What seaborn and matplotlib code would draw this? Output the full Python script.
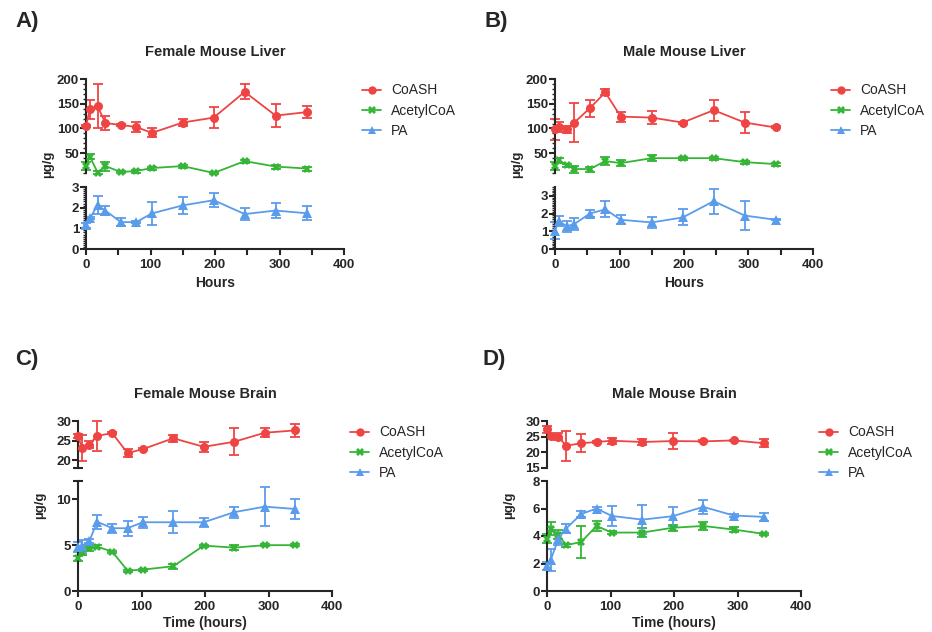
import matplotlib
matplotlib.use("Agg")
import matplotlib.pyplot as plt
import seaborn as sns
import pandas as pd
from matplotlib.lines import Line2D
from matplotlib.ticker import MultipleLocator, FixedLocator

# ---- Config ----
W, H = 932, 632
sns.set_style("ticks")
plt.rcParams["font.family"] = ["Liberation Sans", "DejaVu Sans"]

HOURS = [0, 6, 18, 30, 54, 78, 102, 150, 198, 246, 294, 342]
SERIES = ["CoASH", "AcetylCoA", "PA"]
COLORS = {"CoASH": "#ef4444", "AcetylCoA": "#35b535", "PA": "#5a9cec"}
MARKERS = {"CoASH": "o", "AcetylCoA": "X", "PA": "^"}
PANEL_LABELS = ["A)", "B)", "C)", "D)"]
TITLES = ["Female Mouse Liver", "Male Mouse Liver", "Female Mouse Brain", "Male Mouse Brain"]
XLABELS = ["Hours", "Hours", "Time (hours)", "Time (hours)"]

# ---- Data (mean, error) ----
# A) female liver
fliv_coash = [105, 139, 145, 111, 107, 103, 91, 112, 122, 174, 126, 133]
fliv_coash_err = [3, 19, 44, 14, 3, 10, 9, 8, 22, 15, 24, 12]
fliv_acetyl = [24, 43, 11, 24, 12, 14, 20, 24, 10, 34, 23, 19]
fliv_acetyl_err = [8, 5, 3, 9, 2, 3, 3, 3, 3, 3, 4, 4]
fliv_pa = [1.14, 1.48, 2.12, 1.86, 1.30, 1.30, 1.72, 2.11, 2.36, 1.69, 1.86, 1.73]
fliv_pa_err = [0.1, 0.05, 0.45, 0.2, 0.2, 0.05, 0.55, 0.43, 0.35, 0.3, 0.35, 0.35]

# B) male liver
mliv_coash = [98, 103, 98, 112, 141, 173, 124, 122, 112, 137, 112, 102]
mliv_coash_err = [22, 10, 8, 40, 17, 6, 10, 13, 2, 21, 21, 2]
mliv_acetyl = [24, 36, 26, 18, 18, 34, 30, 40, 40, 40, 32, 28]
mliv_acetyl_err = [8, 5, 3, 7, 5, 8, 6, 6, 3, 3, 3, 3]
mliv_pa = [1.04, 1.59, 1.28, 1.41, 2.0, 2.24, 1.65, 1.5, 1.78, 2.7, 1.89, 1.65]
mliv_pa_err = [0.5, 0.3, 0.3, 0.35, 0.2, 0.45, 0.25, 0.3, 0.45, 0.7, 0.8, 0.03]

# C) female brain
fbr_coash = [26.2, 23.2, 24.0, 26.2, 26.9, 21.8, 22.8, 25.6, 23.4, 24.7, 27.0, 27.6]
fbr_coash_err = [0.5, 3.3, 1.0, 3.8, 0.3, 1.0, 0.3, 0.9, 1.3, 3.5, 1.2, 1.6]
fbr_acetyl = [3.56, 4.3, 4.65, 4.84, 4.29, 2.22, 2.33, 2.7, 4.95, 4.73, 5.0, 5.0]
fbr_acetyl_err = [0.3, 0.4, 0.3, 0.2, 0.1, 0.1, 0.1, 0.3, 0.1, 0.25, 0.1, 0.1]
fbr_pa = [4.8, 4.9, 5.45, 7.56, 6.85, 6.85, 7.5, 7.5, 7.5, 8.6, 9.2, 8.95]
fbr_pa_err = [0.5, 0.7, 0.2, 0.75, 0.5, 0.8, 0.6, 1.2, 0.5, 0.6, 2.1, 1.1]

# D) male brain
mbr_coash = [27.3, 25.1, 25.0, 22.1, 22.9, 23.3, 23.7, 23.3, 23.6, 23.5, 23.8, 22.9]
mbr_coash_err = [1.0, 0.3, 1.2, 4.8, 2.8, 0.3, 1.0, 1.0, 2.5, 0.3, 0.2, 1.3]
mbr_acetyl = [3.81, 4.54, 4.1, 3.33, 3.57, 4.73, 4.25, 4.25, 4.6, 4.73, 4.47, 4.15]
mbr_acetyl_err = [0.35, 0.5, 0.35, 0.1, 1.15, 0.35, 0.1, 0.3, 0.2, 0.3, 0.2, 0.1]
mbr_pa = [1.82, 2.28, 3.8, 4.54, 5.6, 6.0, 5.46, 5.19, 5.44, 6.12, 5.49, 5.39]
mbr_pa_err = [0.3, 0.8, 0.45, 0.3, 0.25, 0.1, 0.7, 1.05, 0.7, 0.5, 0.1, 0.3]

PANELS = [
    {"data": {"CoASH": (fliv_coash, fliv_coash_err), "AcetylCoA": (fliv_acetyl, fliv_acetyl_err),
              "PA": (fliv_pa, fliv_pa_err)},
     "top": ["CoASH", "AcetylCoA"], "bot": ["PA"],
     "top_lim": (10, 200), "top_ticks": [50, 100, 150, 200], "top_minor": 10,
     "bot_lim": (0, 3), "bot_ticks": [0, 1, 2, 3], "bot_minor": 0.1, "x_minor": True,
     "px": (86, 344, 79, 173, 187, 249), "letter": (15, 22), "ylab_y": 164},
    {"data": {"CoASH": (mliv_coash, mliv_coash_err), "AcetylCoA": (mliv_acetyl, mliv_acetyl_err),
              "PA": (mliv_pa, mliv_pa_err)},
     "top": ["CoASH", "AcetylCoA"], "bot": ["PA"],
     "top_lim": (10, 200), "top_ticks": [50, 100, 150, 200], "top_minor": 10,
     "bot_lim": (0, 3.5), "bot_ticks": [0, 1, 2, 3], "bot_minor": 0.1, "x_minor": True,
     "px": (555, 813, 79, 173, 187, 249), "letter": (485, 22), "ylab_y": 164},
    {"data": {"CoASH": (fbr_coash, fbr_coash_err), "AcetylCoA": (fbr_acetyl, fbr_acetyl_err),
              "PA": (fbr_pa, fbr_pa_err)},
     "top": ["CoASH"], "bot": ["AcetylCoA", "PA"],
     "top_lim": (18, 30), "top_ticks": [20, 25, 30], "top_minor": None,
     "bot_lim": (0, 12), "bot_ticks": [0, 5, 10], "bot_minor": None, "x_minor": False,
     "px": (78, 332, 421, 468, 481, 591), "letter": (15, 359), "ylab_y": 505},
    {"data": {"CoASH": (mbr_coash, mbr_coash_err), "AcetylCoA": (mbr_acetyl, mbr_acetyl_err),
              "PA": (mbr_pa, mbr_pa_err)},
     "top": ["CoASH"], "bot": ["AcetylCoA", "PA"],
     "top_lim": (15, 30), "top_ticks": [15, 20, 25, 30], "top_minor": None,
     "bot_lim": (0, 8), "bot_ticks": [0, 2, 4, 6, 8], "bot_minor": None, "x_minor": False,
     "px": (547, 801, 421, 468, 481, 591), "letter": (482, 359), "ylab_y": 505},
]


def px_axes(fig, x0, x1, ytop, ybot):
    return fig.add_axes([x0 / W, 1 - ybot / H, (x1 - x0) / W, (ybot - ytop) / H])


def draw_series(ax, name, mean, err):
    color = COLORS[name]
    df = pd.DataFrame({"Hours": HOURS, "value": mean})
    sns.lineplot(data=df, x="Hours", y="value", ax=ax, color=color, marker=MARKERS[name],
                 markersize=6.5 if name != "AcetylCoA" else 6, markeredgewidth=0,
                 linewidth=1.3, clip_on=False, zorder=3)
    eb = ax.errorbar(HOURS, mean, yerr=err, fmt="none", ecolor=color, elinewidth=1.3,
                     capsize=3.5, capthick=1.3, zorder=2)
    for cap in eb[1]:
        cap.set_clip_on(False)
    for col in eb[2]:
        col.set_clip_on(False)


def style_axis(ax, lim, ticks, minor):
    ax.set_xlim(0, 400)
    ax.set_ylim(*lim)
    ax.yaxis.set_major_locator(FixedLocator(ticks))
    if minor:
        ax.yaxis.set_minor_locator(MultipleLocator(minor))
    else:
        ax.yaxis.set_minor_locator(FixedLocator([lim[0], lim[1]]))
    for side in ["top", "right"]:
        ax.spines[side].set_visible(False)
    ax.spines["left"].set_linewidth(1.5)
    ax.spines["bottom"].set_linewidth(1.5)
    ax.tick_params(axis="y", which="major", length=4, width=1.5, direction="out", labelsize=9.5, pad=1)
    if minor:
        ax.tick_params(axis="y", which="minor", length=2, width=1, direction="out")
    else:
        ax.tick_params(axis="y", which="minor", length=7, width=1.5, direction="inout")
    for lbl in ax.get_yticklabels():
        lbl.set_fontweight("bold")
    ax.set_ylabel("")
    ax.set_xlabel("")


fig = plt.figure(figsize=(W / 100, H / 100), dpi=100)

for i, p in enumerate(PANELS):
    x0, x1, t0, t1, b0, b1 = p["px"]
    ax_top = px_axes(fig, x0, x1, t0, t1)
    ax_bot = px_axes(fig, x0, x1, b0, b1)

    for name in p["top"]:
        draw_series(ax_top, name, *p["data"][name])
    for name in p["bot"]:
        draw_series(ax_bot, name, *p["data"][name])

    style_axis(ax_top, p["top_lim"], p["top_ticks"], p["top_minor"])
    style_axis(ax_bot, p["bot_lim"], p["bot_ticks"], p["bot_minor"])

    # top segment has no x axis
    ax_top.spines["bottom"].set_visible(False)
    ax_top.tick_params(axis="x", which="both", bottom=False, labelbottom=False)

    ax_bot.xaxis.set_major_locator(FixedLocator([0, 100, 200, 300, 400]))
    if p["x_minor"]:
        ax_bot.xaxis.set_minor_locator(MultipleLocator(50))
    else:
        ax_bot.xaxis.set_minor_locator(FixedLocator([]))
    ax_bot.tick_params(axis="x", which="major", length=4, width=1.5, labelsize=9.5, pad=3)
    ax_bot.tick_params(axis="x", which="minor", length=4, width=1.5)
    for lbl in ax_bot.get_xticklabels():
        lbl.set_fontweight("bold")

    xc = (x0 + x1) / 2
    fig.text(xc / W, 1 - (b1 + (34 if i < 2 else 32)) / H, XLABELS[i], ha="center", va="center",
             fontsize=10, fontweight="bold")
    fig.text(xc / W, 1 - (t0 - 27) / H, TITLES[i], ha="center", va="center",
             fontsize=10.5, fontweight="bold")
    lx, ly = p["letter"]
    fig.text(lx / W, 1 - ly / H, PANEL_LABELS[i], ha="left", va="center",
             fontsize=16, fontweight="bold")
    fig.text((x0 - 38) / W, 1 - p["ylab_y"] / H, "µg/g",
             rotation=90, ha="center", va="center", fontsize=9.5, fontweight="bold")

    handles = [Line2D([0], [0], color=COLORS[s], marker=MARKERS[s], markersize=6,
                      markeredgewidth=0, linewidth=1.3) for s in SERIES]
    fig.legend(handles, SERIES, loc="upper left", frameon=False, fontsize=10,
               bbox_to_anchor=((x1 + 18) / W, 1 - (t0 + 4.5) / H), handlelength=1.4,
               handletextpad=0.7, labelspacing=0.45, borderpad=0, borderaxespad=0)

fig.savefig("out.png", dpi=100)
